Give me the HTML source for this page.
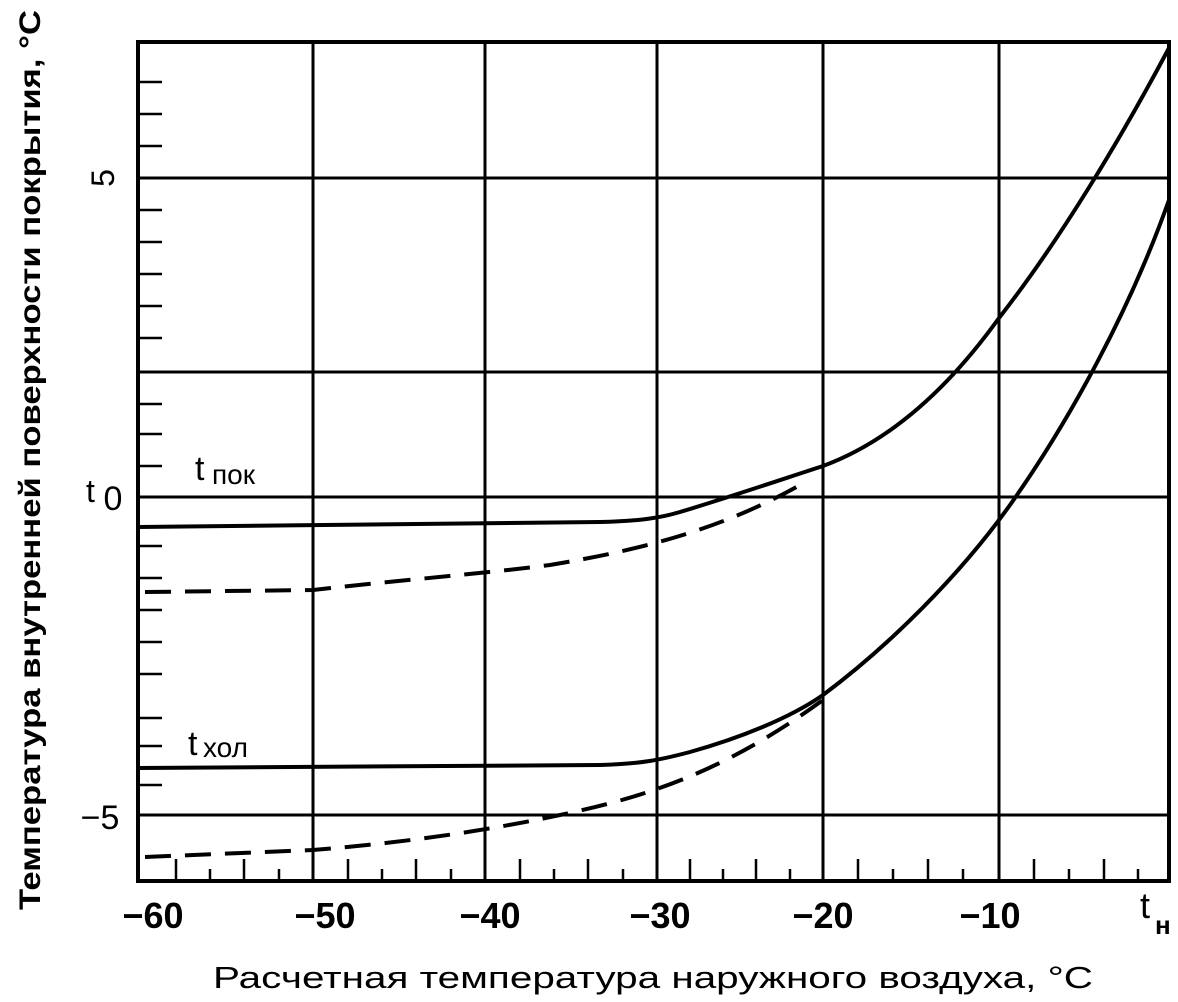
<!DOCTYPE html>
<html><head><meta charset="utf-8"><style>
html,body{margin:0;padding:0;background:#fff;}
svg{display:block;}
text{font-family:"Liberation Sans",sans-serif;fill:#000;}
</style></head><body>
<svg width="1178" height="1002" viewBox="0 0 1178 1002" xmlns="http://www.w3.org/2000/svg">
<g stroke="#000" fill="none">
<rect x="138" y="42" width="1031" height="839" stroke-width="4"/>
<g stroke-width="3">
<line x1="313" y1="42" x2="313" y2="881"/>
<line x1="485" y1="42" x2="485" y2="881"/>
<line x1="657" y1="42" x2="657" y2="881"/>
<line x1="823" y1="42" x2="823" y2="881"/>
<line x1="999" y1="42" x2="999" y2="881"/>
<line x1="138" y1="178" x2="1169" y2="178"/>
<line x1="138" y1="372" x2="1169" y2="372"/>
<line x1="138" y1="497" x2="1169" y2="497"/>
<line x1="138" y1="815" x2="1169" y2="815"/>
</g>
<g stroke-width="2.5">
<line x1="140" y1="82" x2="162" y2="82"/>
<line x1="140" y1="114" x2="162" y2="114"/>
<line x1="140" y1="146" x2="162" y2="146"/>
<line x1="140" y1="210" x2="162" y2="210"/>
<line x1="140" y1="242" x2="162" y2="242"/>
<line x1="140" y1="274" x2="162" y2="274"/>
<line x1="140" y1="306" x2="162" y2="306"/>
<line x1="140" y1="338" x2="162" y2="338"/>
<line x1="140" y1="404" x2="162" y2="404"/>
<line x1="140" y1="434" x2="162" y2="434"/>
<line x1="140" y1="466" x2="162" y2="466"/>
<line x1="140" y1="546" x2="162" y2="546"/>
<line x1="140" y1="578" x2="162" y2="578"/>
<line x1="140" y1="610" x2="162" y2="610"/>
<line x1="140" y1="642" x2="162" y2="642"/>
<line x1="140" y1="674" x2="162" y2="674"/>
<line x1="140" y1="718" x2="162" y2="718"/>
<line x1="140" y1="746" x2="162" y2="746"/>
<line x1="140" y1="785" x2="162" y2="785"/>
</g>
<g stroke-width="2.5">
<path d="M176 881v-22M210 881v-12M244 881v-22M279 881v-12M348 881v-22M382 881v-12M416 881v-22M451 881v-12M520 881v-22M554 881v-12M588 881v-22M623 881v-12M690 881v-22M723 881v-12M756 881v-22M790 881v-12M858 881v-22M893 881v-12M928 881v-22M963 881v-12M1034 881v-22M1069 881v-12M1104 881v-22M1138 881v-12"/>
</g>
<g stroke-width="4">
<path d="M138 527 L600 522 C640 521 660 518 680 512 C730 497 780 480 823 466 C880 445 940 400 999 318 C1060 240 1120 140 1169 48"/>
<path d="M138 768 L600 765 C640 764 660 760 690 752 C740 738 790 718 823 695 C890 645 960 575 1010 505 C1070 420 1130 310 1169 200"/>
<path stroke-dasharray="26,14" d="M145 592 L313 590 C400 580 480 574 550 565 C640 550 720 530 800 485"/>
<path stroke-dasharray="26,14" d="M145 857 L313 850 C400 843 480 832 560 815 C640 798 720 775 823 700"/>
</g>
</g>
<g font-size="36" font-weight="bold">
<text x="153" y="928" text-anchor="middle">−60</text>
<text x="325" y="928" text-anchor="middle">−50</text>
<text x="490" y="928" text-anchor="middle">−40</text>
<text x="660" y="928" text-anchor="middle">−30</text>
<text x="823" y="928" text-anchor="middle">−20</text>
<text x="990" y="928" text-anchor="middle">−10</text>
</g>
<text x="113" y="510" text-anchor="middle" font-size="34">0</text>
<text x="100" y="829" text-anchor="middle" font-size="34">−5</text>
<text x="1140" y="918" font-size="36">t</text>
<text x="1155" y="934" font-size="26" font-weight="bold">н</text>
<text x="86" y="502" font-size="32">t</text>
<text x="126" y="190" font-size="32" text-anchor="middle" transform="rotate(-90 114 190)">5</text>
<text x="195" y="480" font-size="34">t</text><text x="212" y="484" font-size="28">пок</text>
<text x="188" y="755" font-size="34">t</text><text x="203" y="757" font-size="28">хол</text>
<text x="653" y="988" font-size="31" text-anchor="middle" textLength="880" lengthAdjust="spacingAndGlyphs">Расчетная температура наружного воздуха, °С</text>
<text transform="translate(40 460) rotate(-90)" font-size="30" font-weight="bold" text-anchor="middle" textLength="900" lengthAdjust="spacingAndGlyphs">Температура внутренней поверхности покрытия, °С</text>
</svg>
</body></html>
